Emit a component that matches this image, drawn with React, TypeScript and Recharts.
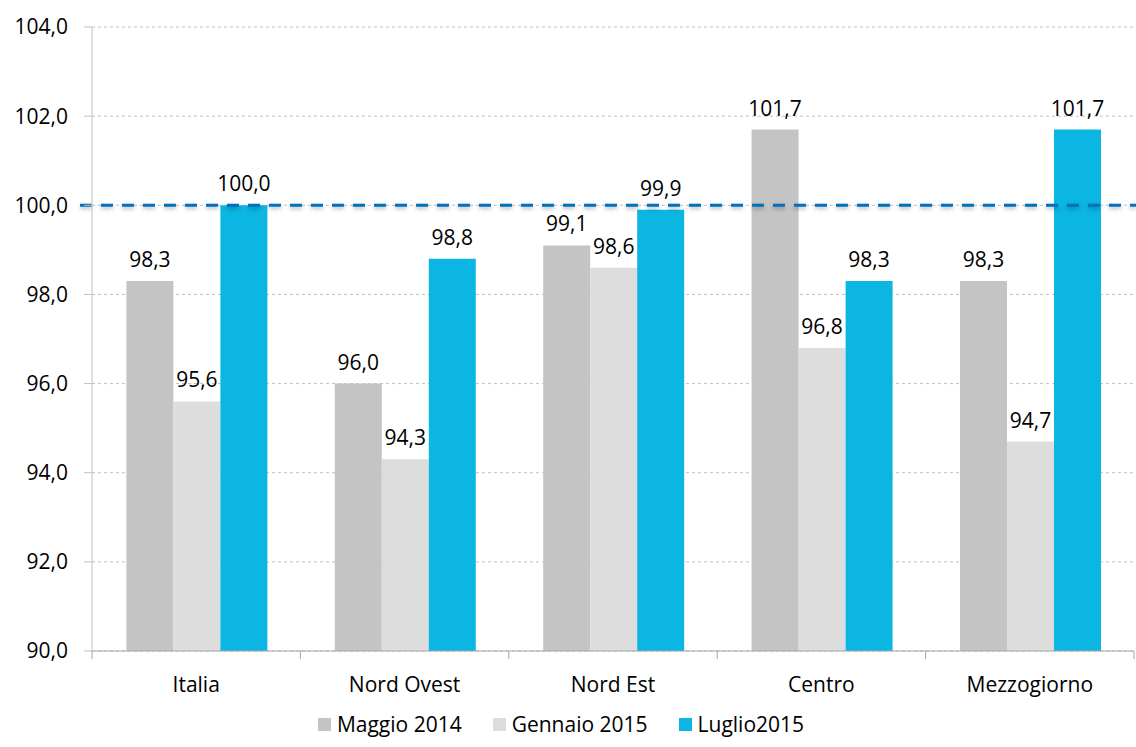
import React from 'react';
import {
  BarChart,
  Bar,
  XAxis,
  YAxis,
  CartesianGrid,
  ReferenceLine,
  Legend,
  LabelList,
} from 'recharts';

const regions = ['Italia', 'Nord Ovest', 'Nord Est', 'Centro', 'Mezzogiorno'];
const maggio2014 = [98.3, 96.0, 99.1, 101.7, 98.3];
const gennaio2015 = [95.6, 94.3, 98.6, 96.8, 94.7];
const luglio2015 = [100.0, 98.8, 99.9, 98.3, 101.7];
const yTicks = [90, 92, 94, 96, 98, 100, 102, 104];
const baseline = 100;

const series = [
  { key: 'maggio', name: 'Maggio 2014', color: '#c4c4c4' },
  { key: 'gennaio', name: 'Gennaio 2015', color: '#dddddd' },
  { key: 'luglio', name: 'Luglio2015', color: '#0bb6e3' },
];

const data = regions.map((region, i) => ({
  region,
  maggio: maggio2014[i],
  gennaio: gennaio2015[i],
  luglio: luglio2015[i],
}));

const FONT = '"Open Sans", sans-serif';
const fmt = (v: number) => v.toFixed(1).replace('.', ',');

// category labels plus tick marks at the band boundaries
const RegionTick = (props: any) => {
  const { x, y, payload, index, visibleTicksCount } = props;
  const half = payload && payload.offset ? payload.offset : 0;
  const axisY = y - 10;
  const isLast = index === visibleTicksCount - 1;
  return (
    <g>
      <line x1={x - half} y1={axisY} x2={x - half} y2={axisY + 8} stroke="#a6a6a6" />
      {isLast && (
        <line x1={x + half} y1={axisY} x2={x + half} y2={axisY + 8} stroke="#a6a6a6" />
      )}
      <text x={x} y={axisY + 41} textAnchor="middle" fill="#000" fontSize={21} fontFamily={FONT}>
        {payload.value}
      </text>
    </g>
  );
};

const BaselineShape = (props: any) => {
  const { x1, y1, x2, y2 } = props;
  return (
    <line
      x1={x1 - 12}
      y1={y1}
      x2={x2 + 2}
      y2={y2}
      stroke="#0070c0"
      strokeWidth={3}
      strokeDasharray="12 9"
      style={{ filter: 'drop-shadow(0px 2px 2px rgba(0,0,0,0.3))' }}
    />
  );
};

const LegendContent = () => (
  <div
    style={{
      display: 'flex',
      justifyContent: 'center',
      alignItems: 'center',
      height: 46,
      paddingRight: 12,
      fontFamily: FONT,
      fontSize: 21,
      color: '#000',
    }}
  >
    {series.map((s, i) => (
      <div key={s.key} style={{ display: 'flex', alignItems: 'center', marginLeft: i === 0 ? 0 : 31 }}>
        <span style={{ width: 13, height: 13, background: s.color, marginRight: 6, display: 'inline-block' }} />
        <span>{s.name}</span>
      </div>
    ))}
  </div>
);

export default function App() {
  return (
    <div style={{ position: 'absolute', left: 0, top: 0, background: '#fff' }}>
      <BarChart
        width={1136}
        height={747}
        data={data}
        margin={{ top: 27, right: 2, left: 0, bottom: 0 }}
        barCategoryGap="16.5%"
        barGap={0}
      >
        <CartesianGrid vertical={false} stroke="#c0c0c0" strokeDasharray="3 3" />
        <XAxis
          dataKey="region"
          height={50}
          tickLine={false}
          tickSize={8}
          tickMargin={2}
          axisLine={{ stroke: '#a6a6a6' }}
          tick={<RegionTick />}
          interval={0}
        />
        <YAxis
          domain={[90, 104]}
          ticks={yTicks}
          width={92}
          tickSize={8}
          tickMargin={16}
          tickFormatter={fmt}
          axisLine={{ stroke: '#c0c0c0' }}
          tickLine={{ stroke: '#c0c0c0' }}
          tick={{ fill: '#000', fontSize: 21, fontFamily: FONT }}
          allowDataOverflow
        />
        <Legend verticalAlign="bottom" height={46} content={<LegendContent />} />
        {series.map((s) => (
          <Bar key={s.key} dataKey={s.key} name={s.name} fill={s.color} isAnimationActive={false}>
            <LabelList
              dataKey={s.key}
              position="top"
              offset={14}
              formatter={(v: any) => fmt(Number(v))}
              style={{ fill: '#000', fontSize: 21, fontFamily: FONT }}
            />
          </Bar>
        ))}
        <ReferenceLine y={baseline} shape={<BaselineShape />} />
      </BarChart>
    </div>
  );
}
